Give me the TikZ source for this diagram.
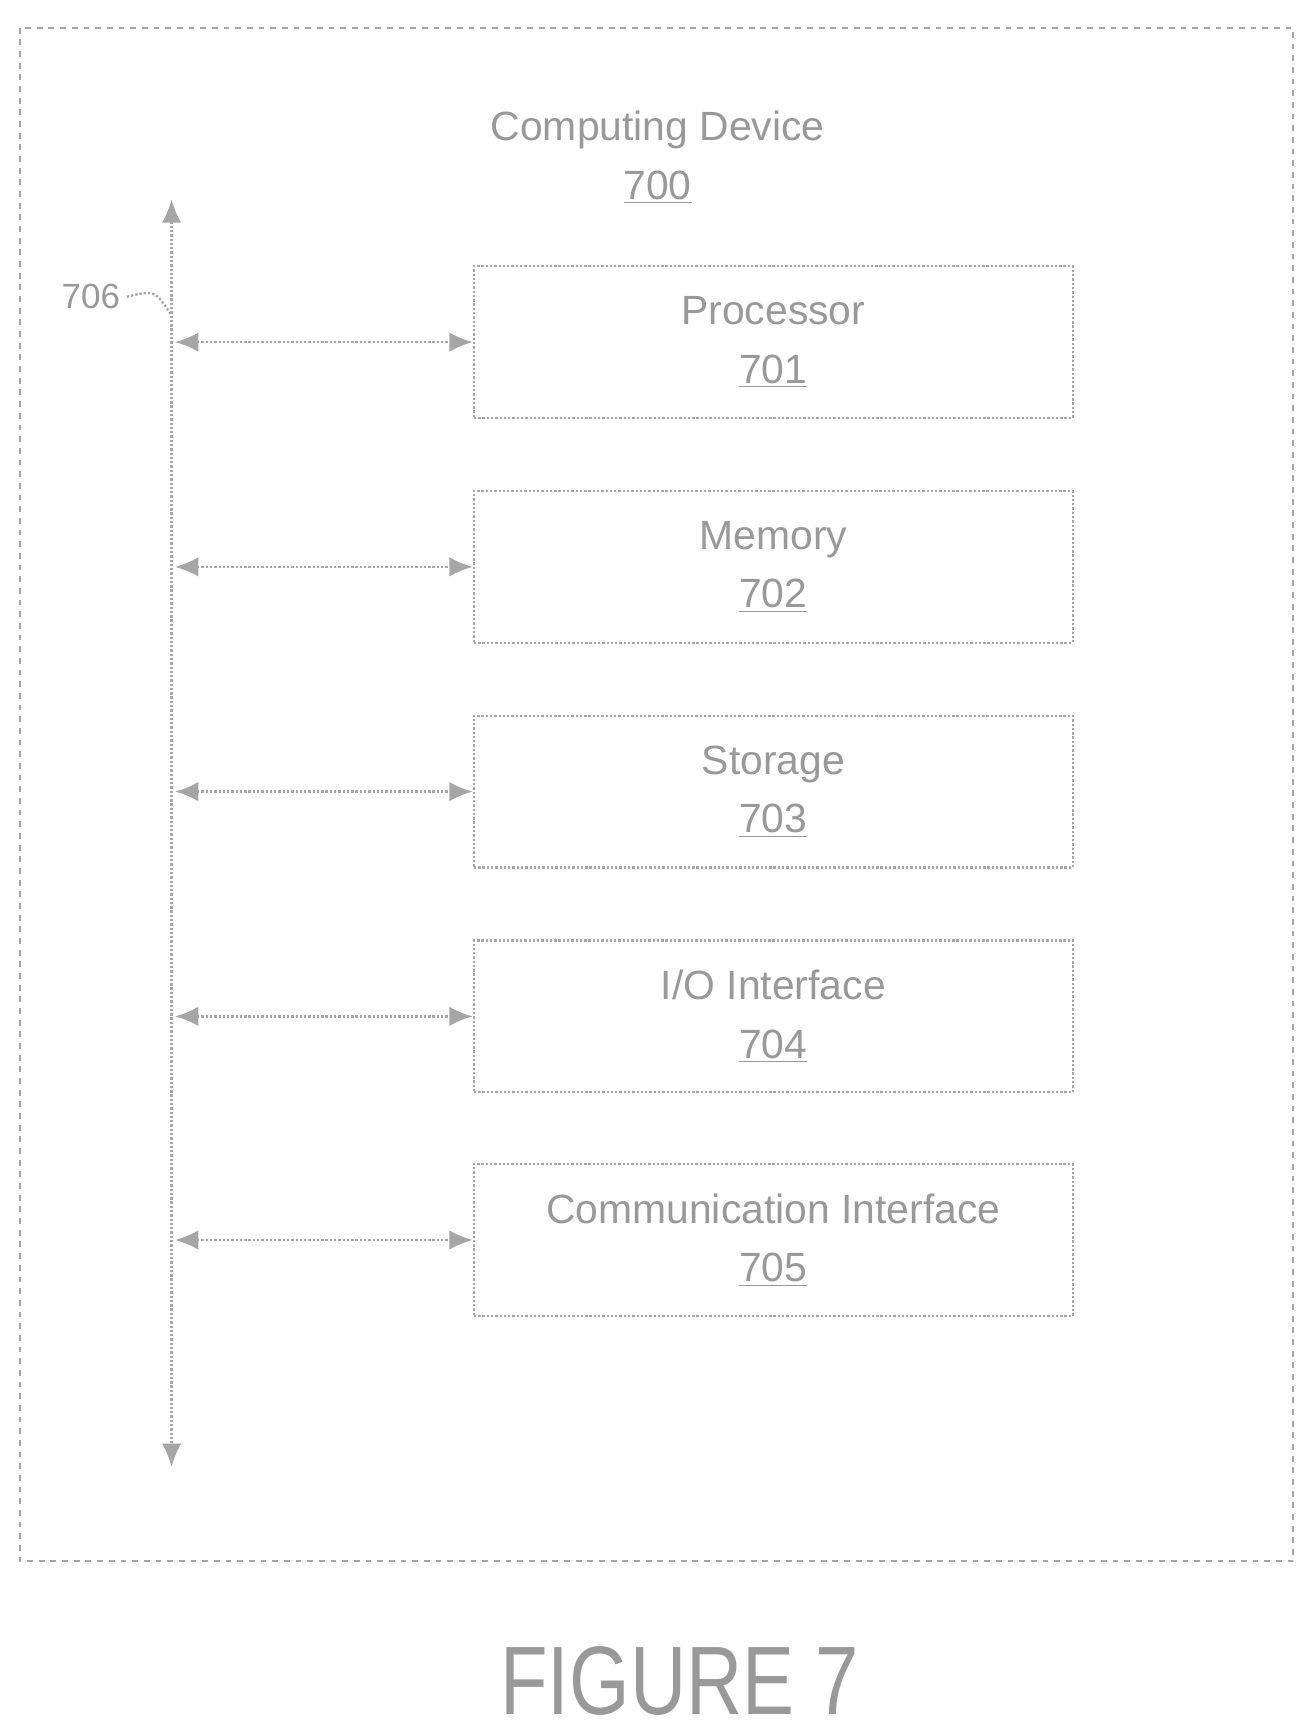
\documentclass[tikz,border=0pt]{standalone}
\usepackage{fontspec}
\setmainfont{Liberation Sans}
\usetikzlibrary{arrows.meta,positioning}
\tikzset{
  part/.style={draw=gray!70, densely dotted, line width=1.2pt, minimum width=10.82cm, minimum height=2.74cm, text=gray!80, font=\fontsize{21}{30}\selectfont, align=center},
  link/.style={gray!70, densely dotted, line width=1.2pt, {Latex[length=12pt,width=10pt]}-{Latex[length=12pt,width=10pt]}}
}
\begin{document}
\begin{tikzpicture}[x=0.02cm,y=-0.02cm]
  \useasboundingbox (0,0) rectangle (1187,1568);
  % outer frame
  \draw[gray!70, dashed, line width=1.2pt] (18,25) rectangle (1168,1410);
  \node[text=gray!80, font=\fontsize{21}{30}\selectfont, align=center] (dev) at (594,142) {Computing Device\\\underline{700}};
  % bus
  \coordinate (top) at (155,180);
  \coordinate (bot) at (155,1325);
  \draw[link] (top) -- (bot);
  \node[text=gray!80, font=\fontsize{18}{22}\selectfont] (busl) at (82,268) {706};
  \draw[gray!70, densely dotted, line width=1.2pt] (busl.east) .. controls (140,262) .. (155,285);
  % parts
  \foreach \y/\name/\num/\txt in {309/proc/701/Processor, 512/mem/702/Memory, 715/stor/703/Storage, 918/io/704/{I/O Interface}, 1120/comm/705/Communication Interface}{
    \node[part, anchor=west] (\name) at (427,\y) {\txt\\\underline{\num}};
    \coordinate (b\name) at (158,\y);
    \draw[link] (b\name) -- (\name.west);
  }
  \node[text=gray!80, font=\fontsize{50}{56}\selectfont] (fig) at (614,1518) {\scalebox{0.8}[1]{FIGURE 7}};
\end{tikzpicture}
\end{document}
